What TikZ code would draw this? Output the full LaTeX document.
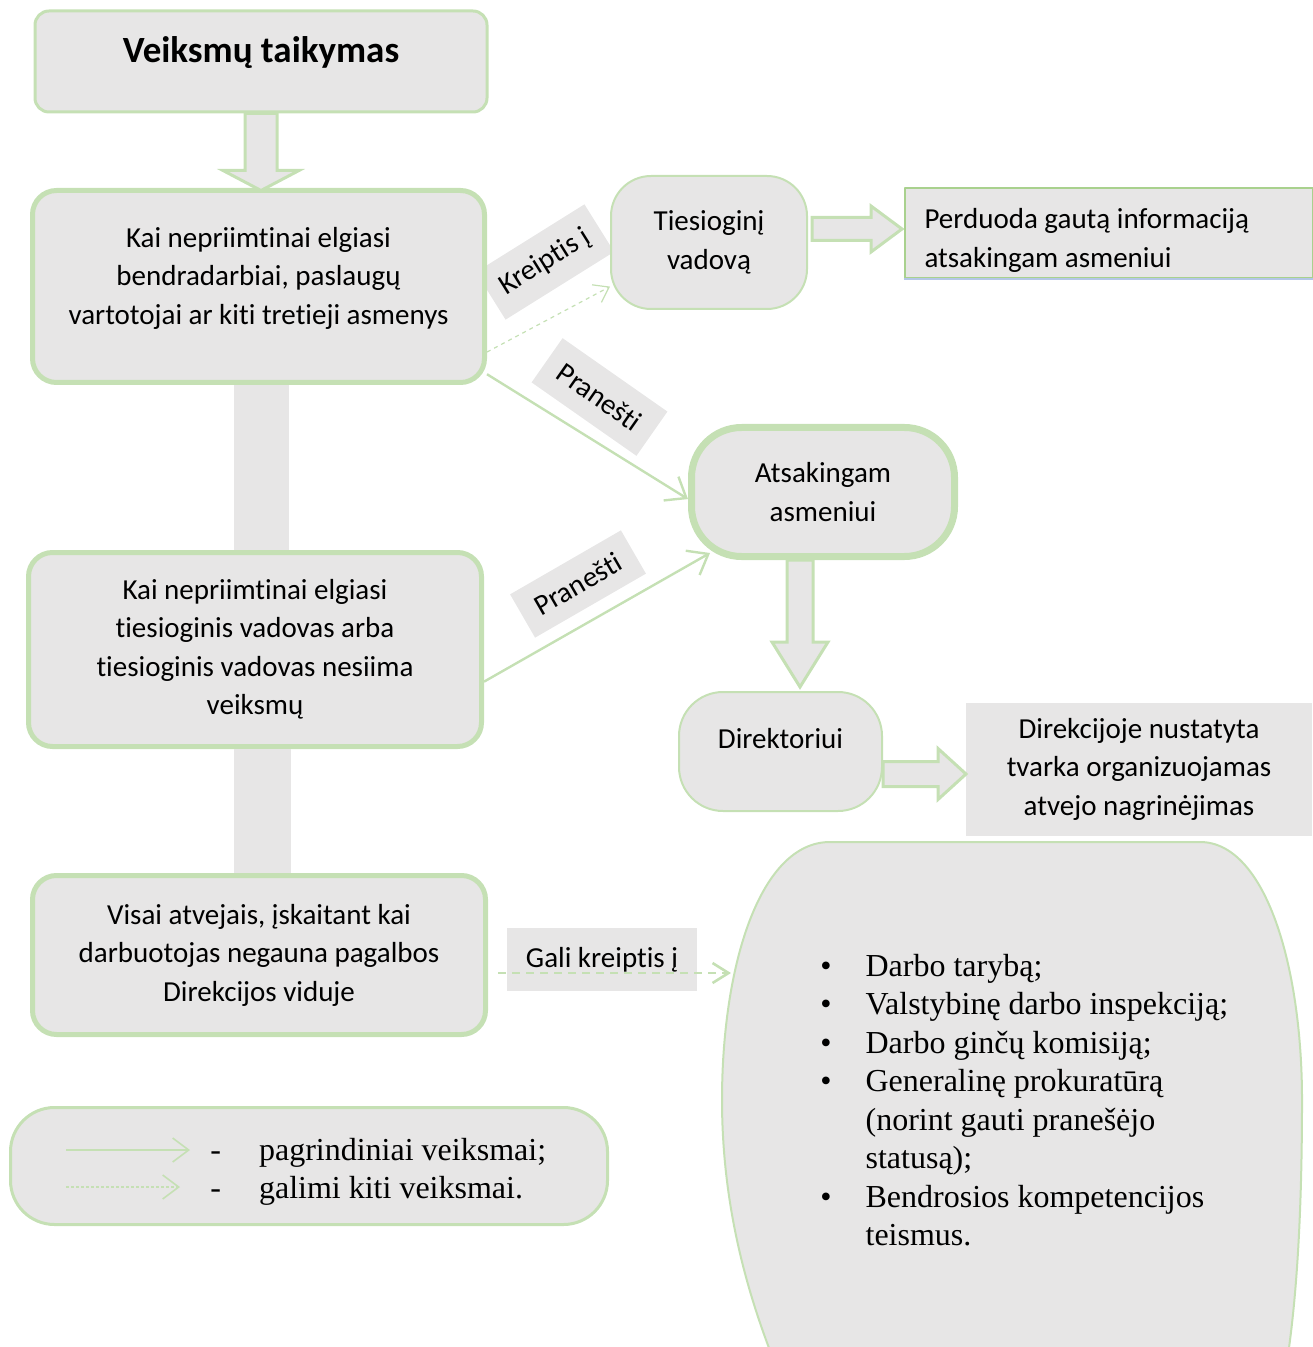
\documentclass[tikz,border=0pt]{standalone}
\usepackage{fontspec}
\setmainfont{Carlito}[Ligatures={NoCommon,NoContextual,NoRequired}, Contextuals={NoAlternate}]
\newfontfamily\listfont{Liberation Serif}
\usepackage{tikz}
\usetikzlibrary{arrows.meta, backgrounds, calc}
\definecolor{my_gray}{HTML}{E7E6E6}
\definecolor{my_green}{HTML}{C5E0B4}
\definecolor{my_darkgreen}{HTML}{A9D18E}
\definecolor{my_blue}{HTML}{B4C7E7}

\begin{document}
\begin{tikzpicture}[
    x=0.5pt, y=-0.5pt,
    line join=round,
    every node/.style={font=\fontsize{14.5}{19.25}\selectfont, inner sep=0pt},
    titlebox/.style={draw=my_green, fill=my_gray, line width=1.5pt, rounded corners=7pt,
        font=\fontsize{18.5}{22}\selectfont\bfseries},
    stepbox/.style={draw=my_green, fill=my_gray, line width=2.5pt, rounded corners=12pt, align=center},
    roundbox/.style={draw=my_green, fill=my_gray, line width=1pt, align=center},
    tag/.style={fill=my_gray, align=center},
    listtext/.style={font=\listfont\fontsize{16}{19.25}\selectfont, align=left},
    blockarrow/.style={draw=my_green, fill=my_gray, line width=1.5pt, line join=miter},
    mainline/.style={draw=my_green, line width=1.2pt, -{Straight Barb[length=9pt, width=14pt]}},
    maybeline/.style={draw=my_green, line width=1.3pt, dash pattern=on 4pt off 3pt,
        -{Straight Barb[length=8pt, width=10pt]}},
    thinline/.style={draw=my_green, line width=0.6pt, dash pattern=on 2pt off 2pt,
        -{Straight Barb[length=7pt, width=10pt]}}
]

% Page frame
\useasboundingbox (0,0) rectangle (1312,1347);

% Title
\node[titlebox, anchor=base, minimum width=226pt, text height=26pt, text depth=24.5pt]
    (title) at (261,63) {Veiksmų taikymas};

% Three cases, top to bottom
\node[stepbox, minimum width=226pt, minimum height=96pt] (colleagues) at (258.5,286.5)
    {Kai nepriimtinai elgiasi\\bendradarbiai, paslaugų\\vartotojai ar kiti tretieji asmenys\rule[-11pt]{0pt}{11pt}};
\node[stepbox, minimum width=226.5pt, minimum height=97pt] (manager) at (255,649.5)
    {Kai nepriimtinai elgiasi\\tiesioginis vadovas arba\\tiesioginis vadovas nesiima\\veiksmų};
\node[stepbox, minimum width=226.5pt, minimum height=79.5pt] (always) at (259,955)
    {Visai atvejais, įskaitant kai\\darbuotojas negauna pagalbos\\Direkcijos viduje};

% Who gets the report
\node[roundbox, minimum width=98pt, minimum height=66.5pt, rounded corners=20pt]
    (direct) at (709,242.5) {Tiesioginį\\vadovą};
\node[roundbox, line width=3.5pt, minimum width=131.5pt, minimum height=64.5pt, rounded corners=25pt]
    (responsible) at (823,492) {Atsakingam\\asmeniui};
\node[roundbox, anchor=north, minimum width=101.5pt, text height=28pt, text depth=31.5pt, rounded corners=22pt]
    (director) at (780.5,691) {Direktoriui};

% What happens next
\node[draw=my_darkgreen, fill=my_gray, line width=1pt, anchor=west, minimum height=45pt,
    text width=184pt, inner xsep=10pt, align=flush left]
    (relay) at (903.5,233.5) {\rule{0pt}{17pt}Perduoda gautą informaciją\\atsakingam asmeniui};
\draw[my_blue, line width=1pt]
    (relay.south west) -- (relay.south east) -- (relay.north east);
\node[fill=my_gray, minimum width=173pt, minimum height=66.5pt, align=center]
    (procedure) at (1139,769) {Direkcijoje nustatyta\\tvarka organizuojamas\\atvejo nagrinėjimas};

% Outside bodies
\draw[draw=my_green, fill=my_gray, line width=1pt]
    (830,842) -- (1200,842)
    .. controls (1265,842) and (1302,965) .. (1302,1100)
    .. controls (1302,1230) and (1295,1330) .. (1280,1400)
    -- (790,1400)
    .. controls (760,1330) and (722,1230) .. (722,1100)
    .. controls (722,965) and (760,842) .. (830,842) -- cycle;
\coordinate (bodies-in) at (731,973);
\node[listtext, anchor=base west] (bodies) at (820,976)
    {\begin{tabular}[t]{@{}l@{\hspace{17pt}}l@{}}
    \textbullet & Darbo tarybą;\\
    \textbullet & Valstybinę darbo inspekciją;\\
    \textbullet & Darbo ginčų komisiją;\\
    \textbullet & Generalinę prokuratūrą\\
     & (norint gauti pranešėjo\\
     & statusą);\\
    \textbullet & Bendrosios kompetencijos\\
     & teismus.
    \end{tabular}};

% Legend
\node[roundbox, line width=1.5pt, minimum width=298.5pt, minimum height=58.5pt, rounded corners=22pt]
    (legend) at (309,1166) {};
\coordinate (main-from)  at (66,1150);
\coordinate (main-to)    at (190,1150);
\coordinate (other-from) at (66,1187);
\coordinate (other-to)   at (180,1187);
\draw[draw=my_green, line width=0.8pt, -{Straight Barb[length=8pt, width=12pt]}]
    (main-from) -- (main-to);
\draw[draw=my_green, line width=0.8pt, dash pattern=on 1.5pt off 1pt, -{Straight Barb[length=8pt, width=12pt]}]
    (other-from) -- (other-to);
\node[listtext, anchor=base west] (legend-text) at (210,1160)
    {\begin{tabular}[t]{@{}l@{\hspace{19pt}}l@{}}
    - & pagrindiniai veiksmai;\\
    - & galimi kiti veiksmai.
    \end{tabular}};

% Connector labels, behind the boxes
\begin{scope}[on background layer]
\node[tag, rotate=32, minimum width=64pt, minimum height=28pt] (ask-tag) at (545,262) {Kreiptis į};
\node[tag, rotate=-35, minimum width=64pt, minimum height=27pt] (report-tag-a) at (599.5,397) {Pranešti};
\node[tag, rotate=30, minimum width=64pt, minimum height=25pt] (report-tag-b) at (578,584) {Pranešti};
\node[tag, minimum width=95pt, minimum height=31.5pt] (may-tag) at (602,959.5) {Gali kreiptis į};
\end{scope}

% Block arrows
\draw[blockarrow] (title.south) ++(-16,0) -- ++(0,57) -- ++(-22,0) -- ++(38,20)
    -- ++(38,-20) -- ++(-22,0) -- ++(0,-57) -- cycle;
\draw[blockarrow] (direct.east) ++(4,-25) -- ++(59,0) -- ++(0,-11.5) -- ++(31,23)
    -- ++(-31,23) -- ++(0,-11.5) -- ++(-59,0) -- cycle;
\draw[blockarrow] (responsible.south) ++(-36,0) -- ++(0,82) -- ++(-15,0) -- ++(28,45)
    -- ++(28,-45) -- ++(-15,0) -- ++(0,-82) -- cycle;
\draw[blockarrow] (director.east) ++(0,10) -- ++(55,0) -- ++(0,-13) -- ++(28,25.5)
    -- ++(-28,25.5) -- ++(0,-13) -- ++(-55,0) -- cycle;

% Bars joining the cases
\fill[my_gray] ($(colleagues.south)+(-24.5,0)$) rectangle ($(manager.north)+(34,0)$);
\fill[my_gray] ($(manager.south)+(-21,0)$) rectangle ($(always.north)+(32,0)$);

% Connectors
\draw[thinline] (colleagues.-16) -- (direct.204);
\draw[mainline] (colleagues.-21) -- (responsible.183);
\draw[mainline] (manager.-8) -- ($(responsible.south west)+(22,-7)$);
\draw[maybeline] ($(always.east)+(10,18)$) -- (bodies-in);

\end{tikzpicture}
\end{document}
